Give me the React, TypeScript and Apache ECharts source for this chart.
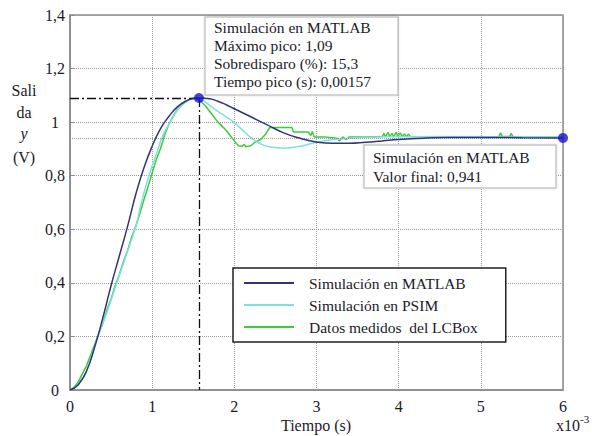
import React, { useEffect, useRef } from "react";
import * as echarts from "echarts";

const FONT = "Liberation Serif";

const xTicks = [0, 1, 2, 3, 4, 5, 6];
const yTicks = [0, 0.2, 0.4, 0.6, 0.8, 1, 1.2, 1.4];

const seriesNames = ["Simulación en MATLAB", "Simulación en PSIM", "Datos medidos  del LCBox"];

// time in ms (x10^-3 s), output in V
const matlab: [number, number][] = [
  [0, 0], [0.1, 0.02], [0.2, 0.07], [0.3, 0.16], [0.4, 0.27], [0.5, 0.39], [0.6, 0.5],
  [0.7, 0.61], [0.8, 0.73], [0.9, 0.83], [1.0, 0.91], [1.1, 0.975], [1.2, 1.02],
  [1.3, 1.055], [1.4, 1.077], [1.5, 1.088], [1.57, 1.09], [1.7, 1.087], [1.8, 1.078],
  [1.9, 1.065], [2.0, 1.05], [2.2, 1.02], [2.4, 0.99], [2.6, 0.96], [2.8, 0.94],
  [3.0, 0.926], [3.2, 0.921], [3.4, 0.921], [3.6, 0.925], [3.8, 0.93], [4.0, 0.935],
  [4.3, 0.94], [4.6, 0.943], [5.0, 0.943], [5.5, 0.942], [6.0, 0.941],
];

const psim: [number, number][] = [
  [0, 0], [0.1, 0.02], [0.2, 0.07], [0.3, 0.16], [0.34, 0.2], [0.45, 0.29], [0.57, 0.4],
  [0.68, 0.5], [0.79, 0.6], [0.87, 0.7], [0.95, 0.79], [1.05, 0.88], [1.13, 0.95],
  [1.22, 1.0], [1.32, 1.05], [1.42, 1.078], [1.52, 1.09], [1.6, 1.084], [1.7, 1.063],
  [1.8, 1.04], [1.9, 1.02], [2.0, 0.998], [2.1, 0.97], [2.2, 0.943], [2.3, 0.922],
  [2.45, 0.906], [2.6, 0.903], [2.8, 0.91], [3.0, 0.925], [3.2, 0.935], [3.4, 0.94],
  [3.8, 0.945], [4.5, 0.946], [6.0, 0.945],
];

const lcbox: [number, number][] = [
  [0, 0], [0.05, 0.01], [0.1, 0.03], [0.15, 0.06], [0.2, 0.09], [0.25, 0.13], [0.3, 0.17],
  [0.35, 0.21], [0.4, 0.25], [0.45, 0.3], [0.5, 0.34], [0.55, 0.39], [0.6, 0.43],
  [0.65, 0.48], [0.7, 0.52], [0.75, 0.57], [0.8, 0.61], [0.85, 0.66], [0.9, 0.71],
  [0.95, 0.76], [1.0, 0.81], [1.05, 0.86], [1.1, 0.9], [1.15, 0.95], [1.2, 0.99],
  [1.25, 1.02], [1.3, 1.045], [1.35, 1.06], [1.4, 1.075], [1.45, 1.085], [1.5, 1.09],
  [1.55, 1.087], [1.6, 1.075], [1.65, 1.06], [1.7, 1.04], [1.75, 1.02], [1.8, 1.0],
  [1.85, 0.985], [1.9, 0.97], [1.95, 0.95], [2.0, 0.93], [2.05, 0.912], [2.1, 0.91],
  [2.12, 0.918], [2.14, 0.908], [2.2, 0.912], [2.25, 0.925], [2.32, 0.935], [2.38, 0.955],
  [2.43, 0.98], [2.55, 0.98], [2.7, 0.98], [2.72, 0.963], [2.9, 0.963], [2.93, 0.95],
  [2.95, 0.965], [2.97, 0.945], [3.1, 0.945], [3.25, 0.94], [3.28, 0.93], [3.32, 0.945],
  [3.36, 0.935], [3.4, 0.945], [3.6, 0.945], [3.8, 0.946], [3.82, 0.958], [3.84, 0.946],
  [3.87, 0.962], [3.89, 0.946], [3.92, 0.958], [3.94, 0.946], [3.97, 0.962], [3.99, 0.946],
  [4.02, 0.96], [4.04, 0.946], [4.07, 0.956], [4.09, 0.946], [4.12, 0.955], [4.14, 0.946],
  [4.5, 0.945], [5.0, 0.945], [5.22, 0.946], [5.24, 0.96], [5.26, 0.946], [5.35, 0.946],
  [5.37, 0.958], [5.39, 0.946], [5.6, 0.945], [6.0, 0.945],
];

const peakPoint: [number, number] = [1.57, 1.09];
const finalPoint: [number, number] = [6, 0.941];

const fmtY = (v: number) => (v === 0 || v === 1 ? String(v) : v.toFixed(1).replace(".", ","));

export default function App() {
  const ref = useRef<HTMLDivElement>(null);
  useEffect(() => {
    document.body.style.margin = "0";
    if (!ref.current) return;
    const chart = echarts.init(ref.current, null, { renderer: "svg" });
    const txt = (x: number, y: number, text: string, extra: any = {}) => ({
      type: "text",
      x,
      y,
      style: {
        text,
        fontFamily: FONT,
        fontSize: 15.5,
        fill: "#1a1a28",
        verticalAlign: "middle",
        ...extra,
      },
      z: 100,
    });
    const boxStyle = {
      fill: "#fff",
      stroke: "#c8c8c8",
      lineWidth: 1.5,
      shadowBlur: 2,
      shadowColor: "rgba(0,0,0,0.15)",
    };
    chart.setOption({
      animation: false,
      backgroundColor: "#fff",
      textStyle: { fontFamily: FONT },
      grid: {
        left: 70, right: 29, top: 15, bottom: 46,
        show: true, borderColor: "#8a8a8a", borderWidth: 1.5, backgroundColor: "#fff",
      },
      legend: {
        data: seriesNames,
        orient: "vertical",
        left: 233,
        top: 268,
        padding: [7, 28, 7, 10],
        itemWidth: 50,
        itemHeight: 14,
        itemGap: 6,
        backgroundColor: "#fff",
        borderColor: "#222",
        borderWidth: 1.5,
        itemStyle: { opacity: 0 },
        textStyle: { fontFamily: FONT, fontSize: 15.5, color: "#1a1a28", padding: [0, 0, 0, 10] },
        z: 50,
      },
      xAxis: {
        type: "value",
        min: 0,
        max: 6,
        interval: 1,
        axisLine: { lineStyle: { color: "#8a8a8a", width: 1.5 } },
        axisTick: { show: false },
        axisLabel: { color: "#1a1a28", fontSize: 16, fontFamily: FONT, margin: 8 },
        splitLine: { show: true, lineStyle: { color: "#9a9a9a", type: "dotted", width: 1 } },
      },
      yAxis: {
        type: "value",
        min: 0,
        max: 1.4,
        interval: 0.2,
        axisLine: { show: true, lineStyle: { color: "#8a8a8a", width: 1.5 } },
        axisTick: { show: true, inside: true, length: 4, lineStyle: { color: "#8a8a8a" } },
        axisLabel: {
          color: "#1a1a28", fontSize: 16, fontFamily: FONT, margin: 15, align: "center",
          formatter: fmtY,
        },
        splitLine: { show: true, lineStyle: { color: "#9a9a9a", type: "dotted", width: 1 } },
      },
      series: [
        {
          name: seriesNames[0],
          type: "line",
          data: matlab,
          symbol: "none",
          smooth: true,
          z: 5,
          lineStyle: { color: "#33337a", width: 1.5 },
          itemStyle: { color: "#33337a" },
          markLine: {
            symbol: "none",
            silent: true,
            label: { show: false },
            lineStyle: { color: "#111", type: [9, 3, 2, 3], width: 1.3 },
            data: [
              [{ coord: [0, peakPoint[1]] }, { coord: peakPoint }],
              [{ coord: peakPoint }, { coord: [peakPoint[0], 0] }],
            ],
          },
        },
        {
          name: seriesNames[1],
          type: "line",
          data: psim,
          symbol: "none",
          smooth: true,
          z: 4,
          lineStyle: { color: "#7ee0e0", width: 1.5 },
          itemStyle: { color: "#7ee0e0" },
          markLine: {
            symbol: "none",
            silent: true,
            label: { show: false },
            lineStyle: { color: "#9a9a9a", type: "dotted", width: 1 },
            data: [[{ coord: [0, finalPoint[1]] }, { coord: finalPoint }]],
          },
        },
        {
          name: seriesNames[2],
          type: "line",
          data: lcbox,
          symbol: "none",
          z: 3,
          lineStyle: { color: "#3ccc3c", width: 1.5 },
          itemStyle: { color: "#3ccc3c" },
        },
        {
          name: "marcadores",
          type: "scatter",
          data: [peakPoint, finalPoint],
          symbolSize: 10,
          clip: false,
          z: 10,
          itemStyle: { color: "#1414c8" },
        },
      ],
      graphic: [
        txt(24, 90, "Sali", { align: "center", fontSize: 16 }),
        txt(24, 112, "da", { align: "center", fontSize: 16 }),
        txt(24, 133, "y", { align: "center", fontSize: 16, fontStyle: "italic" }),
        txt(24, 157, "(V)", { align: "center", fontSize: 16 }),
        txt(316, 425, "Tiempo (s)", { align: "center", fontSize: 16 }),
        txt(556, 425, "x10", { fontSize: 16 }),
        txt(580, 419, "-3", { fontSize: 11 }),
        { type: "rect", shape: { x: 205, y: 17, width: 193, height: 78 }, style: boxStyle, z: 90 },
        txt(214, 27, "Simulación en MATLAB"),
        txt(214, 45, "Máximo pico: 1,09"),
        txt(214, 63, "Sobredisparo (%): 15,3"),
        txt(214, 81, "Tiempo pico (s): 0,00157"),
        { type: "rect", shape: { x: 364, y: 145, width: 192, height: 43 }, style: boxStyle, z: 90 },
        txt(373, 157, "Simulación en MATLAB"),
        txt(373, 176, "Valor final: 0,941"),
      ],
    });
    return () => chart.dispose();
  }, []);
  return <div ref={ref} style={{ width: 592, height: 436 }} />;
}
